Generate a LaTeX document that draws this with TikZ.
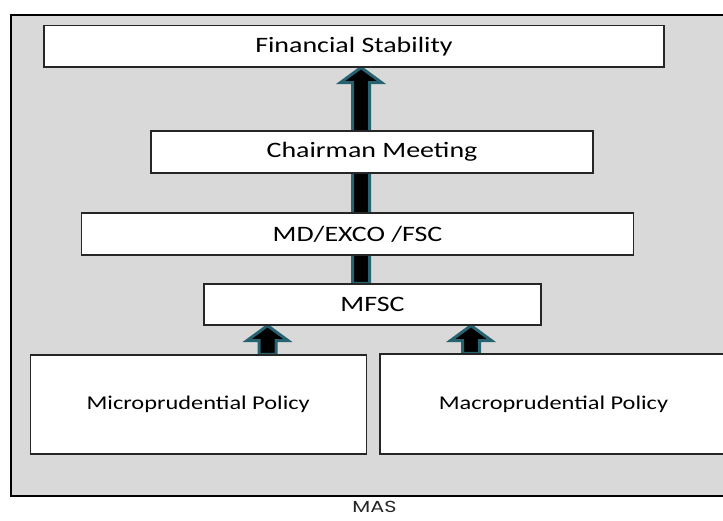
\documentclass[tikz,border=0pt]{standalone}
\usepackage{fontspec}
\setmainfont{Carlito}
\newfontfamily\boxfont{Carlito}[FakeStretch=1.27]
\newfontfamily\policyfont{Carlito}[FakeStretch=1.25]
\newfontfamily\labelfont{Poppins}[FakeStretch=1.3]
\usetikzlibrary{calc}
\definecolor{panelgray}{RGB}{217,217,217}
\definecolor{arrowteal}{RGB}{38,98,112}
\pgfdeclarelayer{back}
\pgfdeclarelayer{arrows}
\pgfsetlayers{back,arrows,main}

\tikzset{
  panel/.style={draw=black, line width=1.1pt, fill=panelgray},
  levelbox/.style={draw=black!85, line width=1.2pt, fill=white, inner sep=0pt,
    font=\boxfont\fontsize{22}{26}\selectfont},
  policybox/.style={levelbox, font=\policyfont\fontsize{19.5}{24}\selectfont},
  blockarrow/.style={draw=arrowteal, line width=3pt, fill=black, line join=miter},
  caption/.style={font=\labelfont\fontsize{16}{19}\selectfont, text=black!85, inner sep=0pt},
}

% upward block arrow from #1 (tail) to #2 (tip)
\newcommand\upblock[2]{%
  \draw[blockarrow] let \p1=#1, \p2=#2 in
    (\x1-8.5pt,\y1) -- (\x1-8.5pt,\y2-15pt) -- (\x1-20.5pt,\y2-15pt) -- (\x1,\y2)
    -- (\x1+20.5pt,\y2-15pt) -- (\x1+8.5pt,\y2-15pt) -- (\x1+8.5pt,\y1) -- cycle;}

\begin{document}
\begin{tikzpicture}[x=1pt,y=-1pt]
  \useasboundingbox (0,0) rectangle (723,520);
  \begin{pgfonlayer}{back}
    \fill[white] (0,0) rectangle (723,520);
    \draw[panel] (11,15) rectangle (740,496);
  \end{pgfonlayer}

  % arrow columns
  \coordinate (spine) at (361,0);
  \coordinate (leftfeed) at (267.5,0);
  \coordinate (rightfeed) at (471,0);

  % hierarchy boxes
  \node[levelbox, minimum width=620pt, minimum height=41.3pt] (fs) at (354,46.3) {Financial Stability};
  \node[levelbox, minimum width=442pt, minimum height=42pt] (cm) at (372,152) {Chairman Meeting};
  \node[levelbox, minimum width=551.5pt, minimum height=42pt] (md) at (357.5,234) {MD/EXCO /FSC};
  \node[levelbox, minimum width=337pt, minimum height=41pt] (mfsc) at (372.5,304.5) {MFSC};
  \node[policybox, minimum width=336pt, minimum height=99pt] (micro) at (198.2,404.5) {Microprudential Policy};
  \node[policybox, minimum width=347pt, minimum height=100pt] (macro) at (553.5,404) {Macroprudential Policy};

  \node[caption, anchor=base] (mas) at (374.5,512.5) {MAS};

  % block arrows behind the boxes
  \begin{pgfonlayer}{arrows}
    \upblock{(spine |- mfsc.north)}{(spine |- fs.south)}
    \upblock{(leftfeed |- micro.north)}{(leftfeed |- mfsc.south)}
    \upblock{(rightfeed |- macro.north)}{(rightfeed |- mfsc.south)}
  \end{pgfonlayer}
\end{tikzpicture}
\end{document}
